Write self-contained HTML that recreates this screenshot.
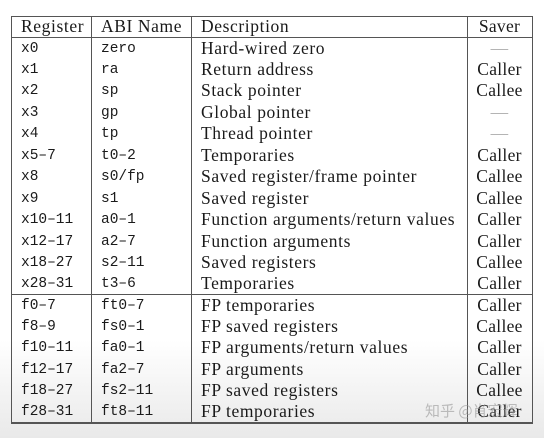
<!DOCTYPE html>
<html><head><meta charset="utf-8"><style>
body{margin:0;width:544px;height:438px;overflow:hidden;background:linear-gradient(#fff 0,#fff 340px,#e9e9e9 438px);position:relative;font-family:"Liberation Serif",serif;color:#1a1a1a}
.l{position:absolute;background:#555}
.t{position:absolute;font-size:17.5px;letter-spacing:0.6px;line-height:21.4px;white-space:nowrap}
.m{font-family:"Liberation Mono",monospace;font-size:14.5px;letter-spacing:0;top:1px}
.c{text-align:center;width:65px;left:467px;letter-spacing:0.3px}
.wm{position:absolute;left:425px;top:400px;font-family:"Noto Sans CJK SC",sans-serif;font-size:15px;color:rgba(150,150,150,.6)}
</style></head><body>
<div class="l" style="left:11px;top:16px;width:522px;height:1px"></div>
<div class="l" style="left:11px;top:37px;width:522px;height:1px"></div>
<div class="l" style="left:11px;top:294px;width:522px;height:1px"></div>
<div class="l" style="left:11px;top:422px;width:522px;height:1.5px"></div>
<div class="l" style="left:11px;top:16px;width:1px;height:407px"></div>
<div class="l" style="left:91px;top:16px;width:1px;height:407px"></div>
<div class="l" style="left:191px;top:16px;width:1px;height:407px"></div>
<div class="l" style="left:467px;top:16px;width:1px;height:407px"></div>
<div class="l" style="left:532px;top:16px;width:1px;height:407px"></div>
<div class="t" style="left:21px;top:16px">Register</div>
<div class="t" style="left:101px;top:16px">ABI Name</div>
<div class="t" style="left:201px;top:16px">Description</div>
<div class="t c" style="top:16px">Saver</div>
<div id="rows"></div>
<script>
var d=[["x0","zero","Hard-wired zero","—"],["x1","ra","Return address","Caller"],["x2","sp","Stack pointer","Callee"],["x3","gp","Global pointer","—"],["x4","tp","Thread pointer","—"],["x5–7","t0–2","Temporaries","Caller"],["x8","s0/fp","Saved register/frame pointer","Callee"],["x9","s1","Saved register","Callee"],["x10–11","a0–1","Function arguments/return values","Caller"],["x12–17","a2–7","Function arguments","Caller"],["x18–27","s2–11","Saved registers","Callee"],["x28–31","t3–6","Temporaries","Caller"],
["f0–7","ft0–7","FP temporaries","Caller"],["f8–9","fs0–1","FP saved registers","Callee"],["f10–11","fa0–1","FP arguments/return values","Caller"],["f12–17","fa2–7","FP arguments","Caller"],["f18–27","fs2–11","FP saved registers","Callee"],["f28–31","ft8–11","FP temporaries","Caller"]];
var h="";d.forEach(function(r,i){var y=i<12?37.5+21.45*i:294.5+21.35*(i-12);
var s=r[3]=="—"?"color:#aaa;":"";
h+='<div class="t m" style="left:21px;top:'+(y+1)+'px">'+r[0]+'</div><div class="t m" style="left:101px;top:'+(y+1)+'px">'+r[1]+'</div><div class="t" style="left:201px;top:'+y+'px">'+r[2]+'</div><div class="t c" style="'+s+'top:'+y+'px">'+r[3]+'</div>';});
document.getElementById("rows").innerHTML=h;
</script>
<div class="wm">知乎 @肖宏辉</div>
</body></html>
